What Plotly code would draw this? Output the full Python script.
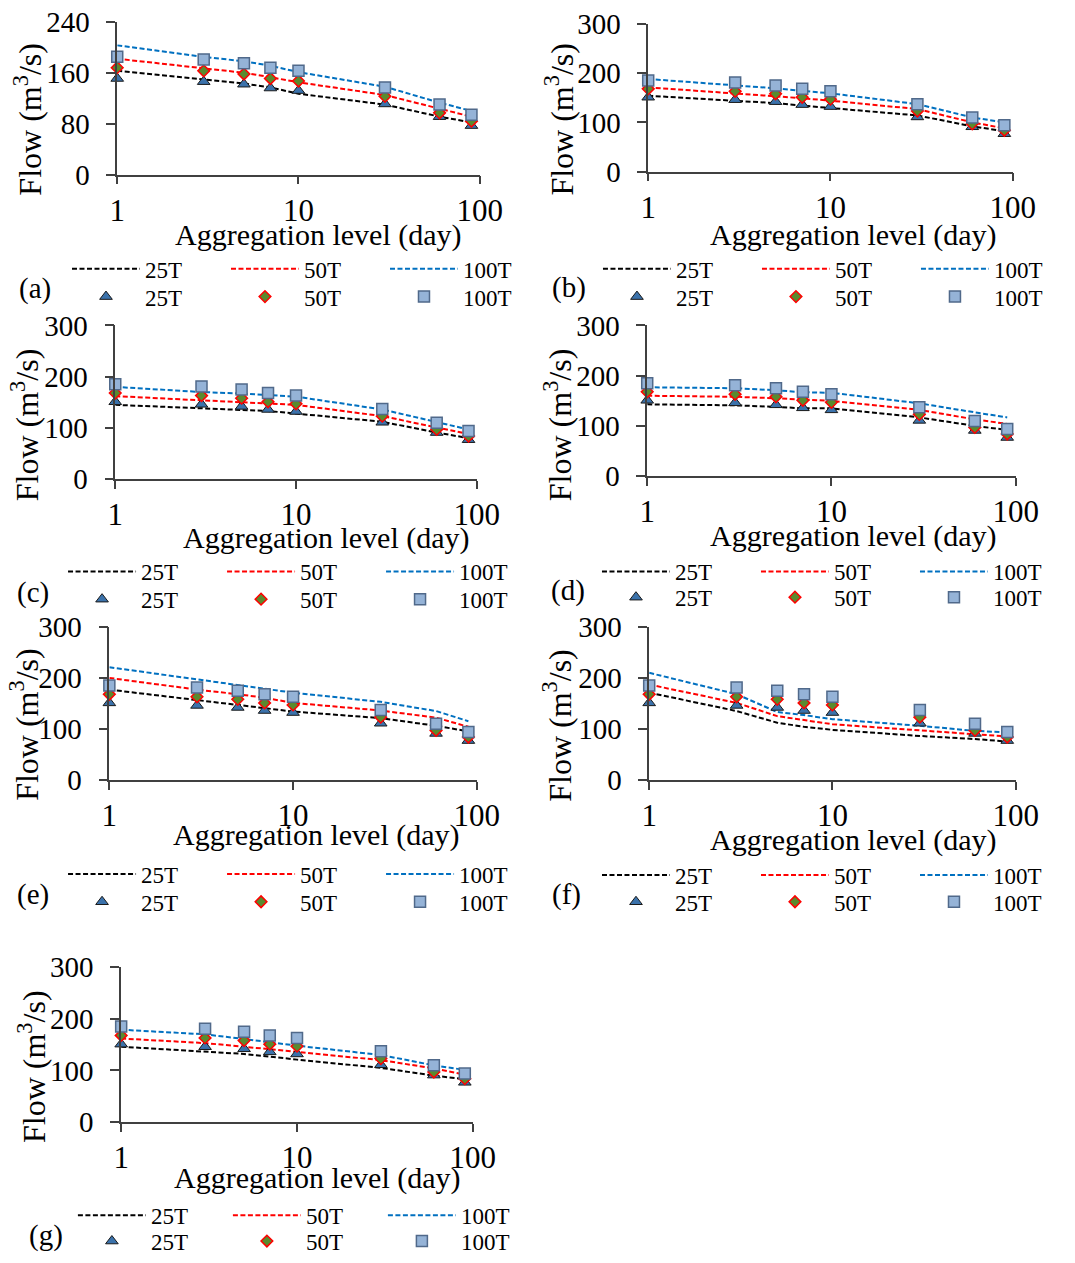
import plotly.graph_objects as go

W, H = 1075, 1263

# aggregation levels (days)
agg_days = [1, 3, 5, 7, 10, 30, 60, 90]
series_names = ["25T", "50T", "100T"]

# observed quantiles (markers), same in every panel
obs_25T = [151, 146, 142, 136, 132, 111, 91, 77]
obs_50T = [168, 163, 158, 151, 147, 123, 97, 84]
obs_100T = [185, 181, 175, 168, 163, 137, 110, 94]

# fitted curves (dashed lines), one set per panel
fit_a_25T = [163, 150, 143, 137, 127, 110, 91, 82]
fit_a_50T = [182, 167, 160, 153, 145, 125, 103, 91]
fit_a_100T = [203, 185, 178, 171, 161, 138, 113, 100]

fit_b_25T = [154, 144, 139, 134, 129, 114, 92, 82]
fit_b_50T = [171, 159, 154, 149, 144, 127, 100, 88]
fit_b_100T = [188, 176, 169, 164, 159, 137, 110, 100]

fit_c_25T = [145, 139, 136, 133, 128, 112, 91, 80]
fit_c_50T = [162, 154, 151, 148, 145, 123, 101, 88]
fit_c_100T = [180, 170, 167, 164, 161, 136, 112, 97]

fit_d_25T = [143, 141, 138, 135, 135, 117, 100, 92]
fit_d_50T = [160, 158, 155, 152, 150, 132, 113, 104]
fit_d_100T = [177, 175, 171, 167, 166, 145, 127, 117]

fit_e_25T = [177, 156, 147, 140, 134, 121, 106, 95]
fit_e_50T = [200, 177, 168, 161, 151, 136, 122, 104]
fit_e_100T = [221, 197, 186, 179, 171, 153, 135, 115]

fit_f_25T = [171, 135, 112, 104, 98, 86, 80, 75]
fit_f_50T = [187, 151, 125, 117, 109, 97, 89, 85]
fit_f_100T = [210, 168, 133, 127, 119, 106, 96, 93]

fit_g_25T = [146, 137, 132, 127, 121, 105, 90, 83]
fit_g_50T = [162, 153, 146, 141, 135, 120, 104, 92]
fit_g_100T = [179, 170, 161, 154, 148, 130, 110, 101]

panel_labels = ["(a)", "(b)", "(c)", "(d)", "(e)", "(f)", "(g)"]
y_max = [240, 300, 300, 300, 300, 300, 300]
y_step = [80, 100, 100, 100, 100, 100, 100]

fits = [
    (fit_a_25T, fit_a_50T, fit_a_100T),
    (fit_b_25T, fit_b_50T, fit_b_100T),
    (fit_c_25T, fit_c_50T, fit_c_100T),
    (fit_d_25T, fit_d_50T, fit_d_100T),
    (fit_e_25T, fit_e_50T, fit_e_100T),
    (fit_f_25T, fit_f_50T, fit_f_100T),
    (fit_g_25T, fit_g_50T, fit_g_100T),
]
observed = (obs_25T, obs_50T, obs_100T)

# plot boxes in pixels: left, right, top, bottom
boxes = [
    (119, 487, 22, 176),
    (658, 1028, 24, 173),
    (117, 484, 328, 483),
    (657, 1031, 328, 480),
    (111, 484, 632, 786),
    (659, 1031, 632, 786),
    (123, 480, 975, 1131),
]
# legend: start of first line sample, line-row y, marker-row y, entry step
legend_pos = [
    (73, 268, 296, 159),
    (612, 268, 296, 159),
    (69, 573, 601, 159),
    (611, 573, 599, 159),
    (69, 878, 906, 159),
    (611, 879, 906, 159),
    (79, 1222, 1248, 155),
]
# panel letter centre, x title centre, y title centre
label_pos = [(36, 291), (578, 290), (33, 597), (577, 595), (33, 902), (575, 902), (47, 1245)]
xtitle_pos = [(323, 237), (866, 237), (331, 542), (866, 540), (321, 842), (866, 847), (322, 1187)]
ytitle_pos = [(28, 120), (568, 120), (25, 428), (566, 428), (25, 730), (566, 731), (33, 1075)]

line_colors = ["#000000", "#ff0000", "#0070c0"]
marker_styles = [
    dict(symbol="triangle-up", size=11, color="#3b72ab", line=dict(color="#1a1a1a", width=1)),
    dict(symbol="diamond", size=9, color="#5a8a2e", line=dict(color="#ff0000", width=1.5)),
    dict(symbol="square", size=11, color="#95b3d7", line=dict(color="#50698a", width=1.5)),
]

FONT = "Liberation Serif, Times New Roman, serif"
AXIS_COLOR = "#404040"
ITEM_W = 68


def px_x(v):
    return v / W


def px_y(v):
    return 1 - v / H


fig = go.Figure()
layout = dict(annotations=[])

for i in range(7):
    n = i + 1
    xa = "x" if n == 1 else f"x{n}"
    ya = "y" if n == 1 else f"y{n}"
    leg_lines = "legend" if n == 1 else f"legend{n}"
    leg_marks = f"legend{n + 7}"

    for k in range(3):
        fig.add_trace(go.Scatter(
            x=agg_days, y=fits[i][k], mode="lines", name=series_names[k],
            line=dict(color=line_colors[k], width=2, dash="5px,2.5px"),
            xaxis=xa, yaxis=ya, legend=leg_lines, hoverinfo="skip",
        ))
    for k in range(3):
        fig.add_trace(go.Scatter(
            x=agg_days, y=observed[k], mode="markers", name=series_names[k],
            marker=marker_styles[k], xaxis=xa, yaxis=ya, legend=leg_marks,
            cliponaxis=False,
        ))

    l, r, t, b = boxes[i]
    xkey = "xaxis" if n == 1 else f"xaxis{n}"
    ykey = "yaxis" if n == 1 else f"yaxis{n}"
    layout[xkey] = dict(
        domain=[px_x(l), px_x(r)], anchor=ya, type="log", range=[0, 2],
        tickvals=[1, 10, 100], ticktext=["1", "10", "100"],
        ticks="outside", ticklen=8, tickwidth=1.5, tickcolor=AXIS_COLOR,
        showline=True, linecolor=AXIS_COLOR, linewidth=1.5,
        showgrid=False, zeroline=False, automargin=False,
        tickfont=dict(size=31, color="black"), ticklabelstandoff=-1,
    )
    layout[ykey] = dict(
        domain=[px_y(b), px_y(t)], anchor=xa, range=[0, y_max[i]], dtick=y_step[i],
        ticks="outside", ticklen=9, tickwidth=1.5, tickcolor=AXIS_COLOR,
        showline=True, linecolor=AXIS_COLOR, linewidth=1.5,
        showgrid=False, zeroline=False, automargin=False,
        tickfont=dict(size=29, color="black"), ticklabelstandoff=11,
    )

    # legends: dashed lines on one row, observed markers on the row below
    lx, ly_lines, ly_marks, step = legend_pos[i]
    leg_common = dict(
        orientation="h", xanchor="left", yanchor="middle",
        x=px_x(lx - 5), itemwidth=ITEM_W, entrywidth=step - ITEM_W - 15,
        entrywidthmode="pixels",
        font=dict(size=23, color="black", family=FONT),
        bgcolor="rgba(0,0,0,0)", borderwidth=0, traceorder="normal",
        itemclick=False, itemdoubleclick=False,
    )
    layout[leg_lines] = dict(leg_common, y=px_y(ly_lines + 3))
    layout[leg_marks] = dict(leg_common, y=px_y(ly_marks + 3))

    layout["annotations"] += [
        dict(text=panel_labels[i], x=px_x(label_pos[i][0]), y=px_y(label_pos[i][1]),
             font=dict(size=29, color="black", family=FONT)),
        dict(text="Aggregation level (day)", x=px_x(xtitle_pos[i][0]), y=px_y(xtitle_pos[i][1]),
             font=dict(size=30, color="black", family=FONT)),
        dict(text="Flow (m<sup>3</sup>/s)", x=px_x(ytitle_pos[i][0]), y=px_y(ytitle_pos[i][1]),
             textangle=-90, font=dict(size=32, color="black", family=FONT)),
    ]

for a in layout["annotations"]:
    a.update(xref="paper", yref="paper", xanchor="center", yanchor="middle", showarrow=False)

fig.update_layout(
    width=W, height=H,
    margin=dict(l=0, r=0, t=0, b=0),
    paper_bgcolor="white", plot_bgcolor="white",
    font=dict(family=FONT, color="black"),
    showlegend=True,
    **layout,
)

# drop the page's default body margin so the figure sits at the top-left corner
fig.write_html("out.html", config={"displayModeBar": False},
               post_script="document.body.style.margin='0';")
